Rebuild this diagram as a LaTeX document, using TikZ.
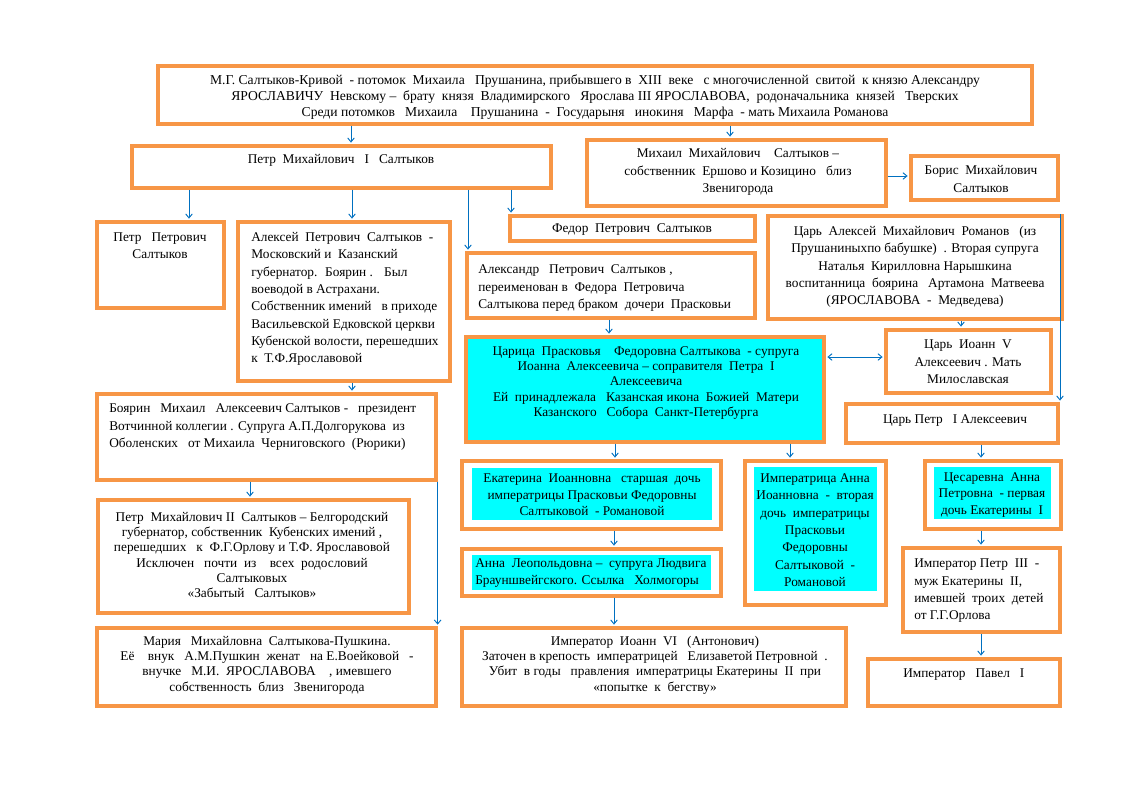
\documentclass[tikz,border=0pt]{standalone}
\usepackage{fontspec}
\setmainfont{Liberation Serif}
\usetikzlibrary{fit,arrows.meta}
\definecolor{frameorange}{HTML}{F79646}
\definecolor{linkblue}{HTML}{0070C0}
\definecolor{notecyan}{HTML}{00FFFF}
\tikzset{
  obox/.style={draw=frameorange,line width=2.5pt,inner sep=0pt},
  cbox/.style={fill=notecyan,inner sep=0pt},
  txt/.style={font=\fontsize{10}{11.5}\selectfont,inner sep=0pt,align=center},
  wide/.style={font=\fontsize{10}{13}\selectfont},
  link/.style={linkblue,line width=0.7pt,-{Straight Barb[length=3pt,width=5pt]},shorten >=1.3pt}
}
\begin{document}
\begin{tikzpicture}[x=0.75pt,y=-0.75pt]
        \useasboundingbox (0,0) rectangle (1123,794);

        \begin{scope}[every node/.style={cbox}]
          \node[fit={(472,468) (712,520)}] (ekatF){};
          \node[fit={(472,555) (711,590)}] (annalF){};
          \node[fit={(754,467) (877,591)}] (annaiF){};
          \node[fit={(934,467) (1051,519)}] (tsesF){};
        \end{scope}

        \begin{scope}[every node/.style={obox}]
          \node[fit={(158,66) (1032,124)}] (top){};
          \node[fit={(132,146) (551,188)}] (petr1){};
          \node[fit={(587,140) (886,206)}] (mikhail){};
          \node[fit={(911,156) (1058,200)}] (boris){};
          \node[fit={(97,222) (224,308)}] (petrp){};
          \node[fit={(238,222) (450,381)}] (aleksei){};
          \node[fit={(510,216) (755,241)}] (fedor){};
          \node[fit={(768,216) (1062,319)}] (tsaralex){};
          \node[fit={(467,253) (755,318)}] (aleksandr){};
          \node[fit={(466,337) (824,442)},fill=notecyan] (praskovya){};
          \node[fit={(886,330) (1051,393)}] (ioann5){};
          \node[fit={(846,404) (1058,443)}] (tsarpetr){};
          \node[fit={(97,394) (436,480)}] (boyarin){};
          \node[fit={(98,500) (409,613)}] (petr2){};
          \node[fit={(97,628) (436,706)}] (maria){};
          \node[fit={(462,461) (721,529)}] (ekat){};
          \node[fit={(462,549) (721,596)}] (annal){};
          \node[fit={(745,461) (886,605)}] (annai){};
          \node[fit={(925,461) (1061,529)}] (tses){};
          \node[fit={(903,548) (1060,632)}] (petr3){};
          \node[fit={(868,659) (1060,706)}] (pavel){};
          \node[fit={(462,628) (846,706)}] (ioann6){};
        \end{scope}

        \begin{scope}[every node/.style={txt}]
          \node[font=\fontsize{10.2}{12}\selectfont] at (595,97) (topT){М.Г. Салтыков-Кривой \ - потомок \ Михаила \ \ Прушанина, прибывшего в \ XIII \ веке \ \ с многочисленной \ свитой \ к князю Александру\\
            ЯРОСЛАВИЧУ \ Невскому -- \ брату \ князя \ Владимирского \ \ Ярослава III ЯРОСЛАВОВА, \ родоначальника \ князей \ \ Тверских\\
            Среди потомков \ \ Михаила \ \ \ Прушанина \ - \ Государыня \ \ инокиня \ \ Марфа \ - мать Михаила Романова};
          \node at (341,160) (petr1T){Петр \ Михайлович \ \ I \ \ Салтыков};
          \node[wide] at (738,172) (mikhailT){Михаил \ Михайлович \ \ \ Салтыков --\\ собственник \ Ершово и Козицино \ \ близ\\ Звенигорода};
          \node[wide] at (981,179) (borisT){Борис \ Михайлович\\ Салтыков};
          \node[wide] at (160,246) (petrpT){Петр \ \ Петрович\\ Салтыков};
          \node[wide,align=left,anchor=west] at (251,299) (alekseiT){Алексей \ Петрович \ Салтыков \ -\\ Московский и \ Казанский\\ губернатор. \ Боярин . \ \ Был\\ воеводой в Астрахани.\\ Собственник имений \ \ в приходе\\ Васильевской Едковской церкви\\ Кубенской волости, перешедших\\ к \ Т.Ф.Ярославовой};
          \node at (632,229) (fedorT){Федор \ Петрович \ Салтыков};
          \node[wide] at (915,267) (tsaralexT){Царь \ Алексей \ Михайлович \ Романов \ \ (из\\ Прушаниныхпо бабушке) \ . Вторая супруга\\ Наталья \ Кирилловна Нарышкина\\ воспитанница \ боярина \ \ Артамона \ Матвеева\\ (ЯРОСЛАВОВА \ - \ Медведева)};
          \node[wide,align=left,anchor=west] at (478,288) (aleksandrT){Александр \ \ Петрович \ Салтыков ,\\ переименован в \ Федора \ Петровича\\ Салтыкова перед браком \ дочери \ Прасковьи};
          \node at (646,383) (praskovyaT){Царица \ Прасковья \ \ \ Федоровна Салтыкова \ - супруга\\ Иоанна \ Алексеевича -- соправителя \ Петра \ I\\ Алексеевича\\ Ей \ принадлежала \ \ Казанская икона \ Божией \ Матери\\ Казанского \ \ Собора \ Санкт-Петербурга};
          \node[wide] at (968,362) (ioann5T){Царь \ Иоанн \ V\\ Алексеевич . Мать\\ Милославская};
          \node at (955,421) (tsarpetrT){Царь Петр \ \ I Алексеевич};
          \node[align=left,anchor=west,font=\fontsize{10}{12.8}\selectfont] at (109,427) (boyarinT){Боярин \ \ Михаил \ \ Алексеевич Салтыков - \ \ президент\\ Вотчинной коллегии . Супруга А.П.Долгорукова \ из\\ Оболенских \ \ от Михаила \ Черниговского \ (Рюрики)};
          \node at (252,555) (petr2T){Петр \ Михайлович II \ Салтыков -- Белгородский\\ губернатор, собственник \ Кубенских имений ,\\ перешедших \ \ к \ Ф.Г.Орлову и Т.Ф. Ярославовой\\ Исключен \ \ почти \ из \ \ \ всех \ родословий\\ Салтыковых\\ «Забытый \ \ Салтыков»};
          \node at (267,665) (mariaT){Мария \ \ Михайловна \ Салтыкова-Пушкина.\\ Её \ \ \ внук \ \ А.М.Пушкин \ женат \ \ на Е.Воейковой \ \ -\\ внучке \ \ М.И. \ ЯРОСЛАВОВА \ \ \ , имевшего\\ собственность \ близ \ \ Звенигорода};
          \node[font=\fontsize{10}{12.4}\selectfont] at (592,495) (ekatT){Екатерина \ Иоанновна \ \ старшая \ дочь\\ императрицы Прасковьи Федоровны\\ Салтыковой \ - Романовой};
          \node[align=left,anchor=west,font=\fontsize{10}{13}\selectfont] at (475,573) (annalT){Анна \ Леопольдовна -- \ супруга Людвига\\ Брауншвейгского. Ссылка \ \ Холмогоры};
          \node[wide] at (815,530) (annaiT){Императрица Анна\\ Иоанновна \ - \ вторая\\ дочь \ императрицы\\ Прасковьи\\ Федоровны\\ Салтыковой \ -\\ Романовой};
          \node[font=\fontsize{10}{12.4}\selectfont] at (992,495) (tsesT){Цесаревна \ Анна\\ Петровна \ - первая\\ дочь Екатерины \ I};
          \node[wide,align=left,anchor=west] at (914,591) (petr3T){Император Петр \ III \ -\\ муж Екатерины \ II,\\ имевшей \ троих \ детей\\ от Г.Г.Орлова};
          \node[anchor=west] at (903,675) (pavelT){Император \ \ Павел \ \ I};
          \node at (655,665) (ioann6T){Император \ Иоанн \ VI \ \ (Антонович)\\ Заточен в крепость \ императрицей \ \ Елизаветой Петровной \ .\\ Убит \ в годы \ \ правления \ императрицы Екатерины \ II \ при\\ «попытке \ к \ бегству»};
        \end{scope}

        \begin{scope}[every path/.style={link}]
          \draw (top.south -| 351,0) -- (351,0 |- petr1.north);
          \draw (top.south -| 730,0) -- (730,0 |- mikhail.north);
          \draw (petr1.south -| 189,0) -- (189,0 |- petrp.north);
          \draw (petr1.south -| 352,0) -- (352,0 |- aleksei.north);
          \draw (petr1.south -| 468,0) -- (468,0 |- aleksandr.north);
          \draw (petr1.south -| 511,0) -- (511,0 |- fedor.north);
          \draw (mikhail.east |- 0,176) -- (0,176 -| boris.west);
          \draw (aleksei.south -| 352,0) -- (352,0 |- boyarin.north);
          \draw (boyarin.south -| 250,0) -- (250,0 |- petr2.north);
          \draw (boyarin.south east) -- (maria.north east);
          \draw (tsaralex.south -| 961,0) -- (961,0 |- ioann5.north);
          \draw (1060,0 |- tsaralex.north) -- (1060,0 |- tsarpetr.north);
          \draw (aleksandr.south -| 609,0) -- (609,0 |- praskovya.north);
          \draw[{Straight Barb[length=3pt,width=5pt]}-{Straight Barb[length=3pt,width=5pt]},shorten <=1.3pt] (praskovya.east |- 0,357) -- (0,357 -| ioann5.west);
          \draw (praskovya.south -| 615,0) -- (615,0 |- ekat.north);
          \draw (praskovya.south -| 790,0) -- (790,0 |- annai.north);
          \draw (tsarpetr.south -| 981,0) -- (981,0 |- tses.north);
          \draw (ekat.south -| 614,0) -- (614,0 |- annal.north);
          \draw (annal.south -| 614,0) -- (614,0 |- ioann6.north);
          \draw (tses.south -| 981,0) -- (981,0 |- petr3.north);
          \draw (petr3.south -| 981,0) -- (981,0 |- pavel.north);
        \end{scope}
      \end{tikzpicture}
\end{document}
